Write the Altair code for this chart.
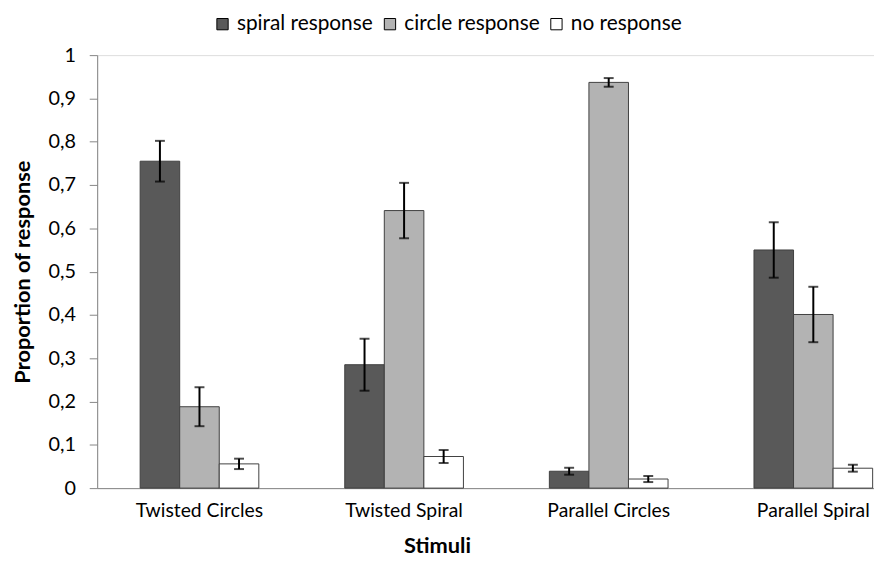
import altair as alt
import pandas as pd

stimuli = ["Twisted Circles", "Twisted Spiral", "Parallel Circles", "Parallel Spiral"]
responses = ["spiral response", "circle response", "no response"]
spiral_vals = [0.755, 0.285, 0.039, 0.55]
spiral_err = [0.047, 0.06, 0.008, 0.064]
circle_vals = [0.188, 0.641, 0.937, 0.401]
circle_err = [0.045, 0.064, 0.01, 0.064]
none_vals = [0.056, 0.073, 0.021, 0.046]
none_err = [0.012, 0.015, 0.007, 0.008]
colors = ["#595959", "#b3b3b3", "#ffffff"]

rows = []
for resp, vals, errs in zip(responses, [spiral_vals, circle_vals, none_vals],
                            [spiral_err, circle_err, none_err]):
    for s, v, e in zip(stimuli, vals, errs):
        rows.append({"stimulus": s, "response": resp, "value": v,
                     "lo": v - e, "hi": v + e})
df = pd.DataFrame(rows)

FONT = "Lato"

x = alt.X("stimulus:N", sort=stimuli, title="Stimuli",
          scale=alt.Scale(range=[0, 826], paddingInner=0.42, paddingOuter=0.21),
          axis=alt.Axis(labelAngle=0, ticks=False, domainColor="#868686",
                        labelFontSize=19.5, labelFont=FONT, labelColor="#000000",
                        labelPadding=14, titleFontSize=22, titleFont=FONT,
                        titleFontWeight="bold", titleColor="#000000",
                        titleX=343, titleY=48, titleAlign="center",
                        titleBaseline="top"))
xo = alt.XOffset("response:N", sort=responses,
                 scale=alt.Scale(paddingInner=0, paddingOuter=0))

bars = alt.Chart(df).mark_bar(stroke="#404040", strokeWidth=1).encode(
    x=x,
    xOffset=xo,
    y=alt.Y("value:Q", title="Proportion of response",
            scale=alt.Scale(domain=[0, 1], nice=False),
            axis=alt.Axis(values=[i / 10 for i in range(11)], grid=False,
                          labelExpr="replace(format(datum.value, '.1~f'), '.', ',')",
                          domainColor="#868686", tickColor="#868686", tickSize=8,
                          labelFontSize=20, labelFont=FONT, labelColor="#000000",
                          labelPadding=14, titleFontSize=22, titleFont=FONT,
                          titleFontWeight="bold", titleColor="#000000", titlePadding=14)),
    color=alt.Color("response:N", sort=responses,
                    scale=alt.Scale(domain=responses, range=colors),
                    legend=alt.Legend(title=None, orient="none", direction="horizontal",
                                      legendX=116, legendY=-42,
                                      symbolType="square", symbolSize=130,
                                      symbolStrokeColor="#000000", symbolStrokeWidth=1,
                                      labelFontSize=21, labelFont=FONT,
                                      labelColor="#000000", columnPadding=6,
                                      symbolOffset=0, labelOffset=4)),
)

rules = alt.Chart(df).mark_rule(color="#000000", strokeWidth=2).encode(
    x=alt.X("stimulus:N", sort=stimuli), xOffset=xo,
    y="lo:Q", y2="hi:Q")
caps_hi = alt.Chart(df).mark_tick(color="#000000", thickness=2, size=10).encode(
    x=alt.X("stimulus:N", sort=stimuli), xOffset=xo, y="hi:Q")
caps_lo = alt.Chart(df).mark_tick(color="#000000", thickness=2, size=10).encode(
    x=alt.X("stimulus:N", sort=stimuli), xOffset=xo, y="lo:Q")

chart = alt.layer(bars, rules, caps_hi, caps_lo).properties(
    width=784, height=437,
    autosize=alt.AutoSizeParams(type="none"),
    padding={"left": 90, "top": 45, "right": 0, "bottom": 72},
).configure_view(stroke=None).configure(background="#ffffff")

chart.save("out.html", embed_options={"renderer": "svg", "actions": False})
